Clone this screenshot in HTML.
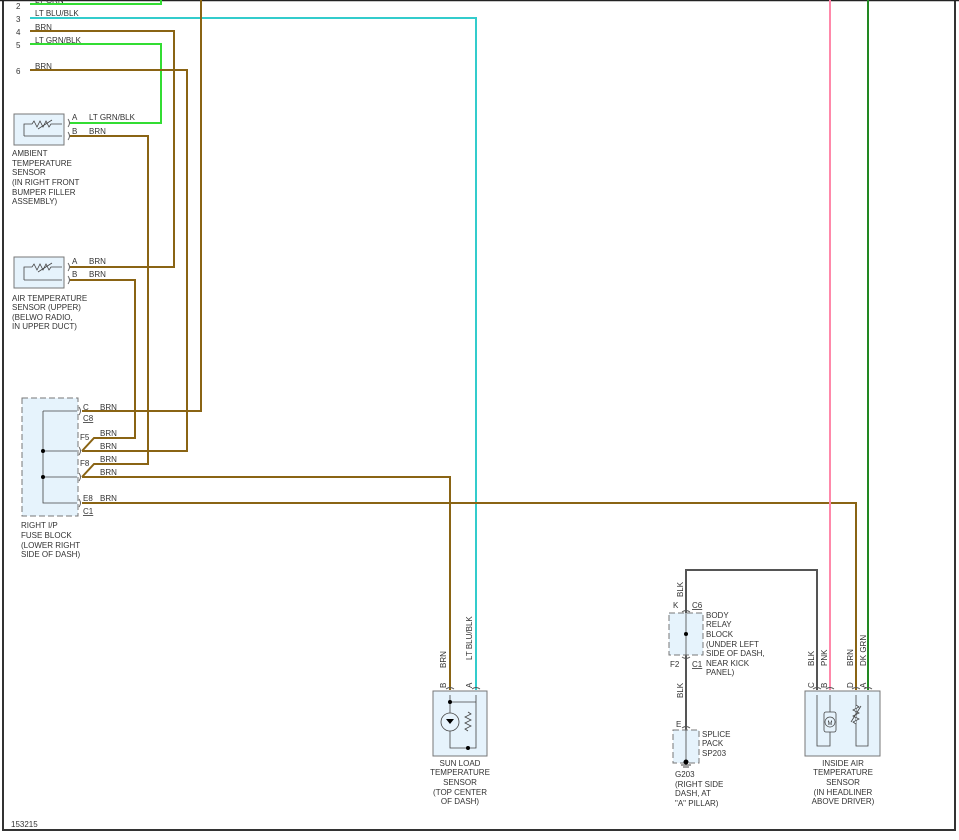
<!DOCTYPE html>
<html><head><meta charset="utf-8"><style>
html,body{margin:0;padding:0;background:#fff;}
svg{display:block;}
text{font-family:"Liberation Sans",sans-serif;font-size:8px;fill:#333;}
</style></head><body>
<svg width="959" height="840" viewBox="0 0 959 840" xmlns="http://www.w3.org/2000/svg">
<!-- frame -->
<path d="M3,0 V830 H955 V0" fill="none" stroke="#333" stroke-width="2"/>
<line x1="0" y1="0.5" x2="959" y2="0.5" stroke="#222" stroke-width="1.5"/>

<text x="16" y="9">2</text><text x="16" y="22">3</text><text x="16" y="35">4</text><text x="16" y="48">5</text><text x="16" y="74">6</text>

<g fill="none" stroke-width="2">
<path d="M30,4 H161 V0" stroke="#33dd33"/>
<path d="M30,18 H476 V690" stroke="#33cccc"/>
<path d="M30,31 H174 V267 H70" stroke="#8a6414"/>
<path d="M30,44 H161 V123 H70" stroke="#33dd33"/>
<path d="M30,70 H187 V451 H82" stroke="#8a6414"/>
<path d="M70,136 H148 V464 H94 L82,477" stroke="#8a6414"/>
<path d="M70,280 H135 V438 H94 L82,451" stroke="#8a6414"/>
<path d="M201,0 V411 H82" stroke="#8a6414"/>
<path d="M82,477 H450 V690" stroke="#8a6414"/>
<path d="M82,503 H856 V690" stroke="#8a6414"/>
<path d="M830,0 V690" stroke="#ff88aa"/>
<path d="M868,0 V690" stroke="#228822"/>
<path d="M686,740 V570 H817 V690" stroke="#555"/>
</g>

<text x="35" y="3">LT GRN</text>
<text x="35" y="16">LT BLU/BLK</text>
<text x="35" y="30">BRN</text>
<text x="35" y="43">LT GRN/BLK</text>
<text x="35" y="69">BRN</text>

<!-- connector marks -->
<g fill="none" stroke="#555" stroke-width="0.9">
<path d="M68,119 q3,4 0,8 M68,132 q3,4 0,8 M68,263 q3,4 0,8 M68,276 q3,4 0,8"/>
<path d="M79,407 q3,4 0,8 M79,447 q3,4 0,8 M79,473 q3,4 0,8 M79,499 q3,4 0,8"/>
<path d="M61,121 l3,2 -3,2 M61,134 l3,2 -3,2 M61,265 l3,2 -3,2 M61,278 l3,2 -3,2"/>
<path d="M74,408 l3,3 -3,3 M74,448 l3,3 -3,3 M74,474 l3,3 -3,3 M74,500 l3,3 -3,3"/>
<path d="M446,689 q4,-3 8,0 M472,689 q4,-3 8,0 M813,689 q4,-3 8,0 M826,689 q4,-3 8,0 M852,689 q4,-3 8,0 M864,689 q4,-3 8,0"/>
<path d="M447,695 l3,-3 3,3 M473,695 l3,-3 3,3 M814,695 l3,-3 3,3 M827,695 l3,-3 3,3 M853,695 l3,-3 3,3 M865,695 l3,-3 3,3"/>
<path d="M682,612 q4,-3 8,0 M682,728 q4,-3 8,0 M682,657 q4,3 8,0"/>
<path d="M683,617 l3,-3 3,3 M683,734 l3,-3 3,3 M683,650 l3,3 3,-3"/>
</g>

<!-- ambient sensor -->
<rect x="14" y="114" width="50" height="31" fill="#e6f3fc" stroke="#777"/>
<path d="M24,136 V124 H32 l2,-3 3,6 3,-6 3,6 3,-6 3,6 2,-3 H62 M24,136 H62" fill="none" stroke="#444" stroke-width="0.8"/>
<line x1="38" y1="129" x2="52" y2="120" stroke="#444" stroke-width="0.8"/>
<text x="72" y="120">A</text><text x="89" y="120">LT GRN/BLK</text>
<text x="72" y="134">B</text><text x="89" y="134">BRN</text>
<text x="12" y="156">AMBIENT</text><text x="12" y="166">TEMPERATURE</text><text x="12" y="175">SENSOR</text><text x="12" y="185">(IN RIGHT FRONT</text><text x="12" y="195">BUMPER FILLER</text><text x="12" y="204">ASSEMBLY)</text>

<!-- air temp sensor -->
<rect x="14" y="257" width="50" height="31" fill="#e6f3fc" stroke="#777"/>
<path d="M24,280 V267 H32 l2,-3 3,6 3,-6 3,6 3,-6 3,6 2,-3 H62 M24,280 H62" fill="none" stroke="#444" stroke-width="0.8"/>
<line x1="38" y1="272" x2="52" y2="263" stroke="#444" stroke-width="0.8"/>
<text x="72" y="264">A</text><text x="89" y="264">BRN</text>
<text x="72" y="277">B</text><text x="89" y="277">BRN</text>
<text x="12" y="301">AIR TEMPERATURE</text><text x="12" y="310">SENSOR (UPPER)</text><text x="12" y="320">(BELWO RADIO,</text><text x="12" y="329">IN UPPER DUCT)</text>

<!-- fuse block -->
<rect x="22" y="398" width="56" height="118" fill="#e6f3fc" stroke="#777" stroke-dasharray="6,3"/>
<path d="M43,411 H77 M43,411 V503 H77 M43,451 H77 M43,477 H77" fill="none" stroke="#444" stroke-width="0.8"/>
<circle cx="43" cy="451" r="2" fill="#000"/><circle cx="43" cy="477" r="2" fill="#000"/>
<text x="83" y="410">C</text><text x="100" y="410">BRN</text>
<text x="83" y="421" text-decoration="underline">C8</text>
<text x="80" y="440">F5</text><text x="100" y="436">BRN</text><text x="100" y="449">BRN</text>
<text x="80" y="466">F8</text><text x="100" y="462">BRN</text><text x="100" y="475">BRN</text>
<text x="83" y="501">E8</text><text x="100" y="501">BRN</text>
<text x="83" y="514" text-decoration="underline">C1</text>
<text x="21" y="528">RIGHT I/P</text><text x="21" y="538">FUSE BLOCK</text><text x="21" y="548">(LOWER RIGHT</text><text x="21" y="557">SIDE OF DASH)</text>

<!-- sun load -->
<rect x="433" y="691" width="54" height="65" fill="#e6f3fc" stroke="#777"/>
<path d="M450,695 V702 H476 V748 H450 V702 M476,695 V702" fill="none" stroke="#444" stroke-width="0.8"/>
<circle cx="450" cy="722" r="9" fill="#e6f3fc" stroke="#444" stroke-width="0.8"/>
<path d="M446,719 h8 l-4,5 z" fill="#000"/>
<path d="M468,712 l3,2 -6,3 6,3 -6,3 6,3 -6,3 3,2" fill="none" stroke="#444" stroke-width="0.8"/>
<circle cx="450" cy="702" r="2" fill="#000"/><circle cx="468" cy="748" r="2" fill="#000"/>
<text transform="translate(446,668) rotate(-90)">BRN</text>
<text transform="translate(472,660) rotate(-90)">LT BLU/BLK</text>
<text transform="translate(446,688) rotate(-90)">B</text>
<text transform="translate(472,688) rotate(-90)">A</text>
<text x="460" y="766" text-anchor="middle">SUN LOAD</text><text x="460" y="775" text-anchor="middle">TEMPERATURE</text><text x="460" y="785" text-anchor="middle">SENSOR</text><text x="460" y="795" text-anchor="middle">(TOP CENTER</text><text x="460" y="804" text-anchor="middle">OF DASH)</text>

<!-- body relay -->
<rect x="669" y="613" width="34" height="42" fill="#e6f3fc" stroke="#777" stroke-dasharray="6,3"/>
<line x1="686" y1="613" x2="686" y2="655" stroke="#444" stroke-width="0.8"/>
<circle cx="686" cy="634" r="2" fill="#000"/>
<text transform="translate(683,597) rotate(-90)">BLK</text>
<text x="673" y="608">K</text><text x="692" y="608" text-decoration="underline">C6</text>
<text x="706" y="618">BODY</text><text x="706" y="627">RELAY</text><text x="706" y="637">BLOCK</text><text x="706" y="647">(UNDER LEFT</text><text x="706" y="656">SIDE OF DASH,</text><text x="706" y="666">NEAR KICK</text><text x="706" y="675">PANEL)</text>
<text x="670" y="667">F2</text><text x="692" y="667" text-decoration="underline">C1</text>
<text transform="translate(683,698) rotate(-90)">BLK</text>
<text x="676" y="727">E</text>
<rect x="673" y="730" width="26" height="33" fill="#e6f3fc" stroke="#777" stroke-dasharray="6,3"/>
<line x1="686" y1="730" x2="686" y2="762" stroke="#444" stroke-width="0.8"/>
<circle cx="686" cy="762" r="2.5" fill="#000"/>
<path d="M681,765 h10 M683,767 h6" stroke="#444"/>
<text x="702" y="737">SPLICE</text><text x="702" y="746">PACK</text><text x="702" y="756">SP203</text>
<text x="675" y="777">G203</text><text x="675" y="787">(RIGHT SIDE</text><text x="675" y="796">DASH, AT</text><text x="675" y="806">"A" PILLAR)</text>

<!-- inside air -->
<rect x="805" y="691" width="75" height="65" fill="#e6f3fc" stroke="#777"/>
<path d="M817,695 V746 H830 V695 M856,695 V746 H868 V695" fill="none" stroke="#444" stroke-width="0.8"/>
<rect x="824" y="712" width="12" height="20" rx="2" fill="#e6f3fc" stroke="#444" stroke-width="0.8"/>
<circle cx="830" cy="722" r="5" fill="none" stroke="#444" stroke-width="0.7"/>
<text x="830" y="725" text-anchor="middle" style="font-size:6px">M</text>
<path d="M856,705 l3,2 -6,3 6,3 -6,3 6,3 -6,3 3,2" fill="#e6f3fc" stroke="#444" stroke-width="0.8"/>
<line x1="851" y1="722" x2="861" y2="706" stroke="#444" stroke-width="0.8"/>
<text transform="translate(814,666) rotate(-90)">BLK</text>
<text transform="translate(827,666) rotate(-90)">PNK</text>
<text transform="translate(853,666) rotate(-90)">BRN</text>
<text transform="translate(866,666) rotate(-90)">DK GRN</text>
<text transform="translate(814,688) rotate(-90)">C</text>
<text transform="translate(827,688) rotate(-90)">B</text>
<text transform="translate(853,688) rotate(-90)">D</text>
<text transform="translate(866,688) rotate(-90)">A</text>
<text x="843" y="766" text-anchor="middle">INSIDE AIR</text><text x="843" y="775" text-anchor="middle">TEMPERATURE</text><text x="843" y="785" text-anchor="middle">SENSOR</text><text x="843" y="795" text-anchor="middle">(IN HEADLINER</text><text x="843" y="804" text-anchor="middle">ABOVE DRIVER)</text>

<text x="11" y="827">153215</text>
</svg>
</body></html>
